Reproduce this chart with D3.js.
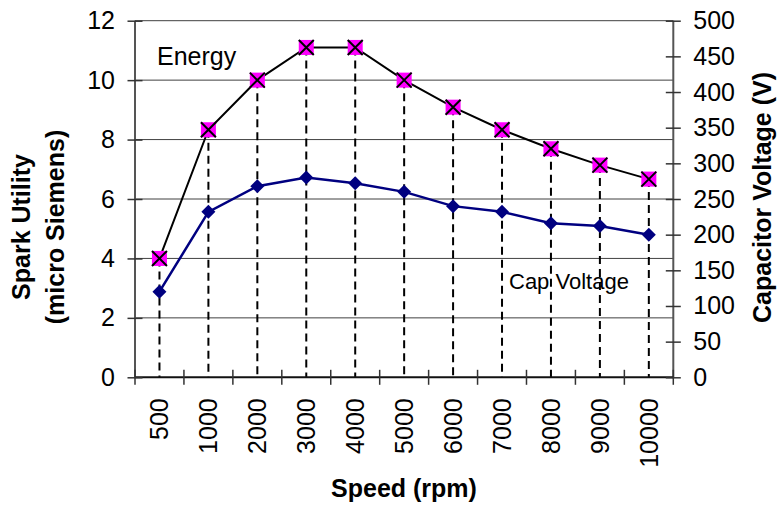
<!DOCTYPE html>
<html>
<head>
<meta charset="utf-8">
<script src="https://cdn.jsdelivr.net/npm/d3@7/dist/d3.min.js"></script>
<style>
  html, body { margin: 0; padding: 0; background: #fff; }
  svg { display: block; }
  text { font-family: "Liberation Sans", Arial, sans-serif; fill: #000; }
</style>
</head>
<body>
<svg id="chart" width="780" height="506"></svg>
<script>
const categories = ["500", "1000", "2000", "3000", "4000", "5000", "6000", "7000", "8000", "9000", "10000"];
const energy = [4.0, 8.33, 10.0, 11.1, 11.1, 10.0, 9.09, 8.33, 7.69, 7.14, 6.67];
const capVoltage = [120, 232, 268, 280, 272, 260, 240, 232, 216, 212, 200];
const leftTicks = [0, 2, 4, 6, 8, 10, 12];
const rightTicks = [0, 50, 100, 150, 200, 250, 300, 350, 400, 450, 500];

const svg = d3.select("#chart");
const L = 135, R = 673.3, T = 20.7, B = 377.3;

const x = d3.scaleBand().domain(categories).range([L, R]);
const yL = d3.scaleLinear().domain([0, 12]).range([B, T]);
const yR = d3.scaleLinear().domain([0, 500]).range([B, T]);
const cx = c => x(c) + x.bandwidth() / 2;

// gridlines
svg.append("g").selectAll("line").data(leftTicks.filter(d => d > 0)).join("line")
  .attr("x1", L).attr("x2", R)
  .attr("y1", d => yL(d)).attr("y2", d => yL(d))
  .attr("stroke", "#000").attr("stroke-width", 1).attr("stroke-opacity", 0.75);

// dashed drop lines
svg.append("g").selectAll("line").data(categories).join("line")
  .attr("x1", d => cx(d)).attr("x2", d => cx(d))
  .attr("y1", (d, i) => yL(energy[i])).attr("y2", B)
  .attr("stroke", "#000").attr("stroke-width", 2)
  .attr("stroke-dasharray", "8,5");

// cap voltage line
svg.append("path").datum(capVoltage)
  .attr("fill", "none").attr("stroke", "#000080").attr("stroke-width", 2.5)
  .attr("d", d3.line().x((d, i) => cx(categories[i])).y(d => yR(d)));

// energy line
svg.append("path").datum(energy)
  .attr("fill", "none").attr("stroke", "#000").attr("stroke-width", 2)
  .attr("d", d3.line().x((d, i) => cx(categories[i])).y(d => yL(d)));

// diamond markers
svg.append("g").selectAll("path").data(capVoltage).join("path")
  .attr("transform", (d, i) => `translate(${cx(categories[i])},${yR(d)})`)
  .attr("d", "M0,-7L7,0L0,7L-7,0Z")
  .attr("fill", "#000080");

// square-x markers
const sq = svg.append("g").selectAll("g").data(energy).join("g")
  .attr("transform", (d, i) => `translate(${cx(categories[i])},${yL(d)})`);
sq.append("rect").attr("x", -7.5).attr("y", -7.5).attr("width", 15).attr("height", 15).attr("fill", "#ff00ff");
sq.append("path").attr("d", "M-7.5,-7.5L7.5,7.5M7.5,-7.5L-7.5,7.5")
  .attr("stroke", "#000").attr("stroke-width", 2);

// axes lines
svg.append("line").attr("x1", L).attr("x2", L).attr("y1", T).attr("y2", B + 1)
  .attr("stroke", "#555").attr("stroke-width", 2);
svg.append("line").attr("x1", R).attr("x2", R).attr("y1", T).attr("y2", B + 1)
  .attr("stroke", "#555").attr("stroke-width", 2);
svg.append("line").attr("x1", L).attr("x2", R).attr("y1", B).attr("y2", B)
  .attr("stroke", "#111").attr("stroke-width", 2);

// left axis
const gl = svg.append("g").attr("transform", `translate(${L},0)`)
  .call(d3.axisLeft(yL).tickValues(leftTicks).tickSize(0).tickPadding(20).tickFormat(d3.format("d")));
gl.select(".domain").remove();
gl.selectAll(".tick line").attr("x1", -7.5).attr("x2", 7.5).attr("stroke", "#333").attr("stroke-width", 1.5);
gl.selectAll(".tick text").attr("font-size", 25).attr("font-family", "Liberation Sans, Arial, sans-serif").attr("fill", "#000");

// right axis
const gr = svg.append("g").attr("transform", `translate(${R},0)`)
  .call(d3.axisRight(yR).tickValues(rightTicks).tickSize(0).tickPadding(20).tickFormat(d3.format("d")));
gr.select(".domain").remove();
gr.selectAll(".tick line").attr("x1", -7.5).attr("x2", 7.5).attr("stroke", "#333").attr("stroke-width", 1.5);
gr.selectAll(".tick text").attr("font-size", 25).attr("font-family", "Liberation Sans, Arial, sans-serif").attr("fill", "#000");

// bottom axis ticks at band boundaries
const bounds = categories.map(c => x(c)).concat([R]);
svg.append("g").selectAll("line").data(bounds).join("line")
  .attr("x1", d => d).attr("x2", d => d).attr("y1", B - 7.5).attr("y2", B + 7.5)
  .attr("stroke", "#333").attr("stroke-width", 1.5);

// bottom axis labels
const gb = svg.append("g").attr("transform", `translate(0,${B})`)
  .call(d3.axisBottom(x).tickSize(0));
gb.select(".domain").remove();
gb.selectAll(".tick text")
  .attr("font-size", 25).attr("font-family", "Liberation Sans, Arial, sans-serif").attr("fill", "#000")
  .attr("text-anchor", "end")
  .attr("transform", "translate(0,21) rotate(-90)")
  .attr("x", 0).attr("y", 0).attr("dy", "0.35em");

// axis titles
svg.append("text").attr("transform", "translate(30,227) rotate(-90)")
  .attr("text-anchor", "middle").attr("font-size", 25).attr("font-weight", "bold").text("Spark Utility");
svg.append("text").attr("transform", "translate(64,227) rotate(-90)")
  .attr("text-anchor", "middle").attr("font-size", 25).attr("font-weight", "bold").text("(micro Siemens)");
svg.append("text").attr("transform", "translate(770.5,197.5) rotate(-90)")
  .attr("text-anchor", "middle").attr("font-size", 25).attr("font-weight", "bold").text("Capacitor Voltage (V)");
svg.append("text").attr("x", 404).attr("y", 497)
  .attr("text-anchor", "middle").attr("font-size", 25).attr("font-weight", "bold").text("Speed (rpm)");

// series labels
svg.append("text").attr("x", 157).attr("y", 65).attr("font-size", 25).text("Energy");
svg.append("text").attr("x", 509).attr("y", 289).attr("font-size", 22).text("Cap Voltage");
</script>
</body>
</html>
